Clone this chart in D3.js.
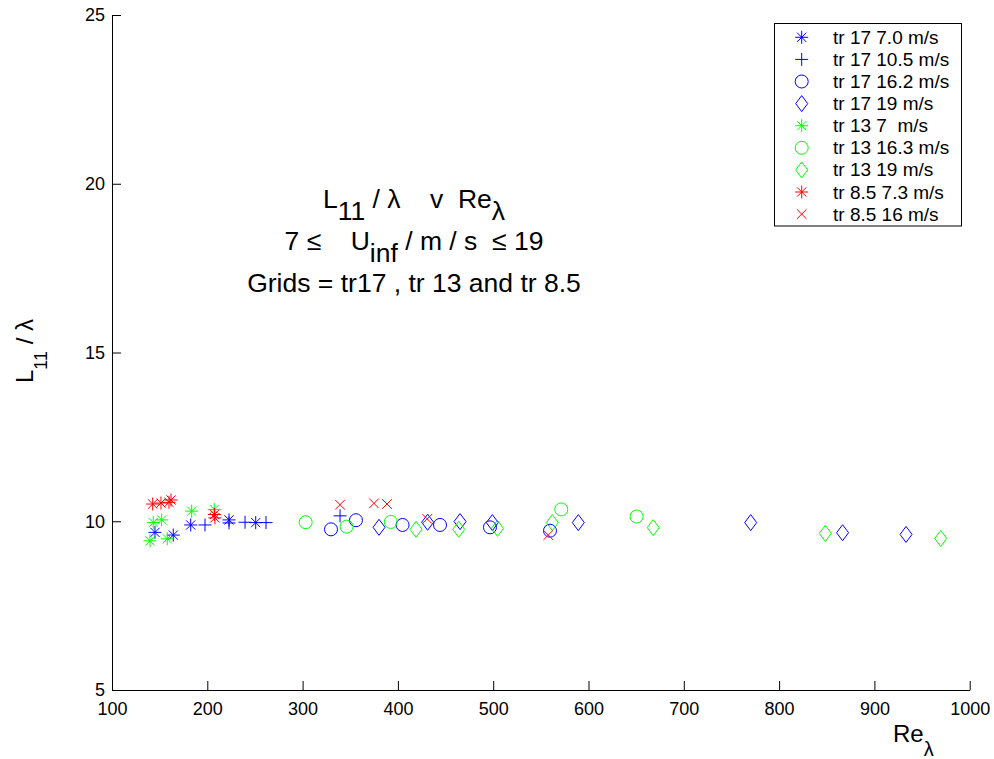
<!DOCTYPE html>
<html><head><meta charset="utf-8">
<script src="https://cdn.jsdelivr.net/npm/d3@7"></script>
<style>
body{margin:0;background:#fff;}
svg{font-family:"Liberation Sans",Arial,sans-serif;}
text{white-space:pre;}
</style></head>
<body><svg id="c" width="994" height="759"></svg>
<script>
const xTicks=[100,200,300,400,500,600,700,800,900,1000];
const yTicks=[5,10,15,20,25];
const legendLabels=["tr 17 7.0 m/s","tr 17 10.5 m/s","tr 17 16.2 m/s","tr 17 19 m/s","tr 13 7  m/s","tr 13 16.3 m/s","tr 13 19 m/s","tr 8.5 7.3 m/s","tr 8.5 16 m/s"];
const seriesColors=["#0000ff","#0000ff","#0000ff","#0000ff","#00ff00","#00ff00","#00ff00","#ff0000","#ff0000"];
const seriesMarkers=["star","plus","circle","diamond","star","circle","diamond","star","x"];
const tr17_7_x=[145.1,164.3,182.6,222.8,250.8];
const tr17_7_y=[9.67,9.59,9.89,10.04,9.96];
const tr17_105_x=[197.6,222.8,239.6,261.6,339.3];
const tr17_105_y=[9.89,9.95,9.97,9.96,10.16];
const tr17_162_x=[329.8,356.0,404.9,444.2,496.6,559.6];
const tr17_162_y=[9.76,10.03,9.89,9.89,9.82,9.72];
const tr17_19_x=[380.2,431.2,465.2,499.1,589.3,770.2,866.6,933.2];
const tr17_19_y=[9.82,9.97,9.99,9.96,9.96,9.96,9.66,9.61];
const tr13_7_x=[139.9,143.3,152.1,158.0,183.6,207.3];
const tr13_7_y=[9.42,9.96,10.04,9.48,10.30,10.35];
const tr13_163_x=[303.2,346.2,392.5,571.4,650.5];
const tr13_163_y=[9.97,9.84,9.98,10.35,10.14];
const tr13_19_x=[419.0,463.8,504.5,562.0,667.9,848.5,969.6];
const tr13_19_y=[9.76,9.76,9.79,9.96,9.81,9.64,9.49];
const tr85_73_x=[142.7,151.4,159.8,161.9,207.5,208.0];
const tr85_73_y=[10.51,10.54,10.56,10.63,10.20,10.10];
const tr85_16_x=[339.3,374.9,388.6,430.8,557.8];
const tr85_16_y=[10.49,10.53,10.51,10.07,9.59];
const seriesX=[tr17_7_x,tr17_105_x,tr17_162_x,tr17_19_x,tr13_7_x,tr13_163_x,tr13_19_x,tr85_73_x,tr85_16_x];
const seriesY=[tr17_7_y,tr17_105_y,tr17_162_y,tr17_19_y,tr13_7_y,tr13_163_y,tr13_19_y,tr85_73_y,tr85_16_y];

const svg=d3.select("#c");
const x=d3.scaleLinear().domain([100,1000]).range([112,969.7]);
const y=d3.scaleLinear().domain([5,25]).range([690,15]);

function markerPath(type){
  const p=d3.path();
  if(type==="star"){const r=6.5,d=4.6;
    p.moveTo(-r,0);p.lineTo(r,0);p.moveTo(0,-r);p.lineTo(0,r);
    p.moveTo(-d,-d);p.lineTo(d,d);p.moveTo(-d,d);p.lineTo(d,-d);}
  else if(type==="plus"){const r=6.5;p.moveTo(-r,0);p.lineTo(r,0);p.moveTo(0,-r);p.lineTo(0,r);}
  else if(type==="x"){const d=4.8;p.moveTo(-d,-d);p.lineTo(d,d);p.moveTo(-d,d);p.lineTo(d,-d);}
  else if(type==="circle"){p.arc(0,0,6.5,0,2*Math.PI);}
  else if(type==="diamond"){p.moveTo(0,-8);p.lineTo(6,0);p.lineTo(0,8);p.lineTo(-6,0);p.closePath();}
  return p.toString();
}

// axes
const xAxis=d3.axisBottom(x).tickValues(xTicks).tickFormat(d3.format("d")).tickSizeInner(-9).tickSizeOuter(0);
const gx=svg.append("g").attr("transform","translate(0,690)").call(xAxis);
const yAxis=d3.axisLeft(y).tickValues(yTicks).tickFormat(d3.format("d")).tickSizeInner(-9).tickSizeOuter(0);
const gy=svg.append("g").attr("transform","translate(112,0)").call(yAxis);
[gx,gy].forEach(g=>{
  g.attr("font-size",18).attr("font-family","Liberation Sans, Arial, sans-serif");
  g.selectAll("path,line").attr("stroke","#000").attr("stroke-width",1);
  g.selectAll("text").attr("fill","#000");
});
gx.selectAll("text").attr("y",25).attr("dy",0);
gy.selectAll("text").attr("x",-7).attr("dy","0.33em");

// data
seriesX.forEach((xs,i)=>{
  svg.append("g").selectAll("path").data(xs.map((v,j)=>[v,seriesY[i][j]])).join("path")
    .attr("d",markerPath(seriesMarkers[i]))
    .attr("transform",d=>`translate(${x(d[0])},${y(d[1])})`)
    .attr("fill","none").attr("stroke",seriesColors[i]).attr("stroke-width",1);
});

// legend
const lg=svg.append("g");
lg.append("rect").attr("x",774.5).attr("y",23.5).attr("width",187).attr("height",202.5)
  .attr("fill","#fff").attr("stroke","#000").attr("stroke-width",1);
legendLabels.forEach((lab,i)=>{
  const cy=37.3+i*22.1;
  lg.append("path").attr("d",markerPath(seriesMarkers[i])).attr("transform",`translate(801.7,${cy})`)
    .attr("fill","none").attr("stroke",seriesColors[i]).attr("stroke-width",1);
  lg.append("text").attr("x",833).attr("y",cy+6.5).attr("font-size",19).text(lab);
});

// title
const t=svg.append("g").attr("font-size",26.5).attr("text-anchor","middle");
const l1=t.append("text").attr("x",414).attr("y",208);
l1.append("tspan").text("L");
l1.append("tspan").attr("dy",12).text("11");
l1.append("tspan").attr("dy",-12).text(" / λ    v  Re");
l1.append("tspan").attr("dy",12).text("λ");
const l2=t.append("text").attr("x",414).attr("y",250);
l2.append("tspan").text("7 ≤    U");
l2.append("tspan").attr("dy",12).text("inf");
l2.append("tspan").attr("dy",-12).text(" / m / s  ≤ 19");
t.append("text").attr("x",414).attr("y",292).text("Grids = tr17 , tr 13 and tr 8.5");

// axis labels
const yl=svg.append("text").attr("font-size",24).attr("text-anchor","middle")
  .attr("transform","translate(33,351) rotate(-90)");
yl.append("tspan").text("L");
yl.append("tspan").attr("dy",14).attr("font-size",18).text("11");
yl.append("tspan").attr("dy",-14).text(" / λ");
const xl=svg.append("text").attr("font-size",24).attr("x",893).attr("y",742);
xl.append("tspan").text("Re");
xl.append("tspan").attr("dy",14).attr("font-size",20).text("λ");
</script></body></html>
